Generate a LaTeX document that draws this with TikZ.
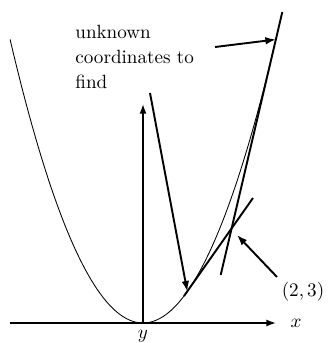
\documentclass[tikz,border=0pt]{standalone}
\usetikzlibrary{arrows.meta}
\begin{document}
\begin{tikzpicture}[x=0.523pt,y=-0.523pt,
  thinline/.style={line width=0.45pt},
  axisline/.style={line width=0.75pt,-{Latex[length=5pt,width=3.6pt]}},
  tanline/.style={line width=1pt},
  pointer/.style={line width=1pt,-{Latex[length=5.5pt,width=4pt]}},
  lbl/.style={inner sep=0pt,font=\fontsize{10}{13}\selectfont}]
\useasboundingbox (0,0) rectangle (329,343);
% coordinates
\coordinate (O) at (143,323);
\coordinate (xl) at (10,323);
\coordinate (xr) at (276,323);
\coordinate (yt) at (143,104);
\coordinate (T1) at (187.3,291.5);
\coordinate (T3) at (275.9,39.5);
\coordinate (s1) at (184,296);
\coordinate (s2) at (253,198);
\coordinate (l1) at (220.7,275);
\coordinate (l2) at (282.3,12);
\coordinate (P) at (237,235);
% parabola
\draw[thinline] plot[domain=-3:3,samples=100,smooth] ({143+44.3*\x},{323-31.5*\x*\x});
% axes
\draw[axisline] (xl) -- (xr);
\draw[axisline] (O) -- (yt);
\node[lbl] (xlab) at (296,323) {$x$};
\node[lbl] (ylab) at (143,336) {$y$};
% tangents
\draw[tanline] (s1) -- (s2);
\draw[tanline] (l1) -- (l2);
% labels
\node[lbl,anchor=base west,align=left] (txt) at (75,88) {unknown\\coordinates to\\find};
\node[lbl] (pt) at (303,292) {$(2,3)$};
% pointers
\coordinate (a1) at (215,47);
\coordinate (a2) at (150,93);
\coordinate (a3) at (277,277);
\draw[pointer] (a1) -- (T3);
\draw[pointer] (a2) -- (T1);
\draw[pointer] (a3) -- (P);
\end{tikzpicture}
\end{document}
